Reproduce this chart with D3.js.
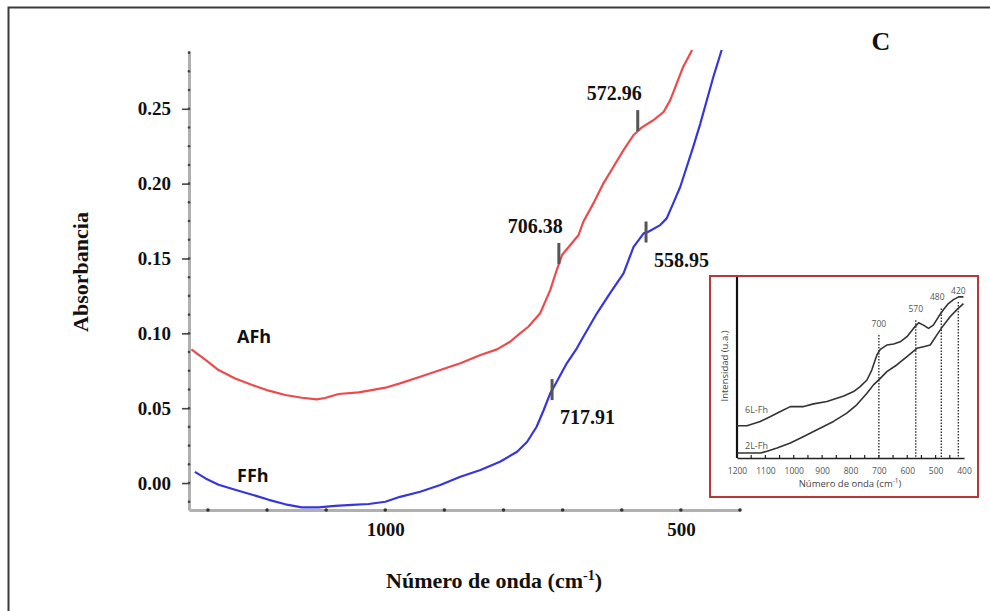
<!DOCTYPE html>
<html>
<head>
<meta charset="utf-8">
<script src="https://cdn.jsdelivr.net/npm/d3@7"></script>
<style>
  html, body { margin: 0; padding: 0; background: #fff; }
  svg { display: block; }
</style>
</head>
<body>
<svg id="chart" width="990" height="611"></svg>
<script>
// ---- FT-IR spectra: absorbance vs. wavenumber ----
const afhWavenumber = [1328, 1304, 1282, 1254, 1225, 1197, 1169, 1141, 1116, 1102, 1079, 1045, 1023, 1000,
  975, 941, 907, 873, 839, 811, 789, 772, 758, 738, 721, 710, 701, 687, 673, 665, 648, 631, 614, 597,
  580, 566, 546, 529, 518, 507, 496, 481];
const afhAbsorbance = [0.0893, 0.0822, 0.0755, 0.0699, 0.0655, 0.0617, 0.0588, 0.0570, 0.0559, 0.0568,
  0.0595, 0.0606, 0.0621, 0.0637, 0.0666, 0.0710, 0.0755, 0.0800, 0.0855, 0.0893, 0.0944, 0.1000, 0.1044,
  0.1134, 0.1289, 0.1423, 0.1523, 0.1590, 0.1657, 0.1745, 0.1868, 0.2002, 0.2113, 0.2224, 0.2325, 0.2376,
  0.2425, 0.2480, 0.2558, 0.2670, 0.2781, 0.2893];

const ffhWavenumber = [1322, 1304, 1282, 1254, 1225, 1197, 1169, 1141, 1113, 1085, 1056, 1028, 1000, 975,
  941, 907, 873, 839, 806, 777, 760, 744, 732, 721, 710, 693, 676, 665, 642, 620, 597, 580, 563, 555, 535,
  524, 513, 501, 490, 479, 467, 456, 445, 431];
const ffhAbsorbance = [0.0075, 0.0031, -0.0011, -0.0045, -0.0078, -0.0112, -0.0142, -0.0162, -0.0162,
  -0.0153, -0.0146, -0.0140, -0.0125, -0.0092, -0.0058, -0.0013, 0.0042, 0.0087, 0.0142, 0.0209, 0.0276,
  0.0376, 0.0488, 0.0599, 0.0677, 0.0800, 0.0900, 0.0977, 0.1134, 0.1267, 0.1401, 0.1578, 0.1668, 0.1679,
  0.1723, 0.1768, 0.1868, 0.1979, 0.2113, 0.2247, 0.2403, 0.2559, 0.2714, 0.2893];

// band positions marked on each spectrum
const bandSeries = ["AFh", "AFh", "FFh", "FFh"];
const bandWavenumber = [706.38, 572.96, 558.95, 717.91];

const seriesNames = ["AFh", "FFh"];
const seriesColors = ["#ec4a4c", "#3636dc"];

const yMajorTicks = [0.00, 0.05, 0.10, 0.15, 0.20, 0.25];
const yMinorTicks = d3.range(-0.0125, 0.29, 0.0125);
const xTicks = [1300, 1200, 1100, 1000, 900, 800, 700, 600, 500, 400];
const xLabelled = [1000, 500];

// ---- inset: reference spectra of 2L / 6L ferrihydrite ----
const insetWavenumber6L = [1200, 1165, 1118, 1094, 1047, 1012, 965, 930, 883, 824, 789, 766, 742, 725,
  707, 695, 672, 648, 625, 601, 578, 560, 543, 525, 508, 490, 472, 455, 437, 419, 402];
const insetIntensity6L = [17.8, 17.8, 20.2, 22.0, 25.7, 28.4, 28.4, 29.9, 31.2, 34.3, 36.7, 39.4, 43.1,
  48.6, 56.9, 60.0, 62.4, 63.0, 64.2, 67.0, 71.6, 74.7, 73.4, 71.6, 73.4, 78.0, 82.0, 85.3, 87.5, 89.0, 89.0];
const insetWavenumber2L = [1200, 1118, 1094, 1059, 1012, 965, 918, 860, 813, 778, 742, 719, 695, 672, 637,
  601, 566, 543, 519, 496, 472, 449, 425, 402];
const insetIntensity2L = [2.75, 2.75, 3.7, 5.5, 8.3, 11.9, 15.6, 20.2, 24.8, 29.4, 35.8, 40.4, 44.0, 47.7,
  51.4, 56.0, 60.6, 61.5, 62.4, 67.9, 73.4, 78.0, 82.0, 85.3];
const insetPeaks = [700, 570, 480, 420];
const insetPeakTop = [67.9, 76.1, 82.6, 86.2];
const insetTicks = [1200, 1100, 1000, 900, 800, 700, 600, 500, 400];

// ---------------------------------------------------------------
const svg = d3.select("#chart");
const serif = "'Liberation Serif', 'Times New Roman', serif";
const sans = "'Open Sans', 'Liberation Sans', sans-serif";

// outer figure frame (left and top edges)
svg.append("path")
  .attr("d", "M990,7.5H8.5V611")
  .attr("fill", "none").attr("stroke", "#3a3a3a").attr("stroke-width", 2);

const x = d3.scaleLinear().domain([1332, 400]).range([189, 740]);
const y = d3.scaleLinear().domain([-0.018, 0.2886]).range([510, 51]);

// y axis
const yAxisG = svg.append("g").attr("transform", `translate(${x.range()[0]},0)`)
  .call(d3.axisLeft(y).tickValues(yMajorTicks).tickSize(7).tickSizeOuter(0).tickPadding(11)
    .tickFormat(d3.format(".2f")));
yAxisG.select(".domain").attr("stroke", "#b0b0b0").attr("stroke-width", 3);
yAxisG.selectAll(".tick line").attr("stroke", "#444").attr("stroke-width", 1.6);
yAxisG.selectAll(".tick text")
  .attr("font-family", serif).attr("font-weight", "bold").attr("font-size", 19).attr("fill", "#111");
yAxisG.selectAll("circle.minor").data(yMinorTicks).join("circle")
  .attr("class", "minor").attr("cx", 0).attr("cy", d => y(d)).attr("r", 1.3).attr("fill", "#444");

// x axis
const xAxisG = svg.append("g").attr("transform", `translate(0,${y.range()[0]})`)
  .call(d3.axisBottom(x).tickValues(xTicks).tickSize(0).tickSizeOuter(0).tickPadding(13)
    .tickFormat(d => xLabelled.includes(d) ? String(d) : ""));
xAxisG.select(".domain").attr("stroke", "#b0b0b0").attr("stroke-width", 3);
xAxisG.selectAll(".tick text")
  .attr("font-family", serif).attr("font-weight", "bold").attr("font-size", 19).attr("fill", "#111");
xAxisG.selectAll("circle.dot").data(xTicks).join("circle")
  .attr("class", "dot").attr("cx", d => x(d)).attr("cy", 0).attr("r", 1.8).attr("fill", "#333");

// axis titles
svg.append("text")
  .attr("transform", "translate(88,272) rotate(-90)")
  .attr("text-anchor", "middle")
  .attr("font-family", serif).attr("font-weight", "bold").attr("font-size", 22).attr("fill", "#111")
  .text("Absorbancia");
const xt = svg.append("text")
  .attr("x", 494).attr("y", 588).attr("text-anchor", "middle")
  .attr("font-family", serif).attr("font-weight", "bold").attr("font-size", 22).attr("fill", "#111");
xt.append("tspan").text("Número de onda (cm");
xt.append("tspan").attr("font-size", 14).attr("dy", -8).text("-1");
xt.append("tspan").attr("dy", 8).text(")");

// panel letter
svg.append("text").attr("x", 881).attr("y", 50).attr("text-anchor", "middle")
  .attr("font-family", serif).attr("font-weight", "bold").attr("font-size", 26).attr("fill", "#111")
  .text("C");

// spectra
const spectra = [
  d3.zip(afhWavenumber, afhAbsorbance),
  d3.zip(ffhWavenumber, ffhAbsorbance)
];
const line = d3.line().x(d => x(d[0])).y(d => y(d[1]));
svg.selectAll("path.spectrum").data(spectra).join("path")
  .attr("class", "spectrum")
  .attr("d", line)
  .attr("fill", "none")
  .attr("stroke", (d, i) => seriesColors[i])
  .attr("stroke-width", 2.2)
  .attr("stroke-linejoin", "round");

// series names
const nameY = [y(0.0935), y(0.0005)];
svg.selectAll("text.series").data(seriesNames).join("text")
  .attr("class", "series")
  .attr("x", 237).attr("y", (d, i) => nameY[i])
  .attr("font-family", sans).attr("font-weight", "bold").attr("font-size", 18).attr("fill", "#111")
  .text(d => d);

// absorbance of a spectrum at a given wavenumber (linear between samples)
function valueAt(series, wn) {
  const pts = series.slice().sort((a, b) => a[0] - b[0]);
  const i = d3.bisector(d => d[0]).left(pts, wn);
  const a = pts[Math.max(0, i - 1)], b = pts[Math.min(pts.length - 1, i)];
  if (a[0] === b[0]) return a[1];
  return a[1] + (b[1] - a[1]) * (wn - a[0]) / (b[0] - a[0]);
}

// band markers and labels
bandWavenumber.forEach((wn, i) => {
  const s = seriesNames.indexOf(bandSeries[i]);
  const px = x(wn), py = y(valueAt(spectra[s], wn));
  const top = s === 0 ? py - 21 : py - 11;
  const bottom = top + 21;
  svg.append("rect").attr("x", px - 1.5).attr("y", top).attr("width", 3).attr("height", 21)
    .attr("fill", "#555");
  const lbl = svg.append("text")
    .attr("font-family", serif).attr("font-weight", "bold").attr("font-size", 20).attr("fill", "#111")
    .text(wn.toFixed(2));
  if (s === 0) {
    lbl.attr("x", px + 4).attr("y", top - 10).attr("text-anchor", "end");
  } else {
    lbl.attr("x", px + 8).attr("y", bottom + 24).attr("text-anchor", "start");
  }
});

// ---------------- inset ----------------
const inset = svg.append("g");
inset.append("rect").attr("x", 710).attr("y", 276).attr("width", 268).attr("height", 221)
  .attr("fill", "#fff").attr("stroke", "#b8383a").attr("stroke-width", 2);

const xi = d3.scaleLinear().domain([1200, 400]).range([737, 964]);
const yi = d3.scaleLinear().domain([0, 100]).range([458, 277]);

const xiAxis = inset.append("g").attr("transform", `translate(0,${yi(0)})`)
  .call(d3.axisBottom(xi).tickValues(insetTicks).tickSize(0).tickSizeOuter(0).tickPadding(10)
    .tickFormat(d3.format("d")));
xiAxis.select(".domain").attr("stroke", "#222").attr("stroke-width", 1.5);
xiAxis.selectAll(".tick text").attr("font-family", sans).attr("font-size", 8.5).attr("fill", "#555");
xiAxis.selectAll("line.minor").data(d3.range(1150, 400, -50)).join("line")
  .attr("class", "minor").attr("x1", d => xi(d)).attr("x2", d => xi(d))
  .attr("y1", -3).attr("y2", 1).attr("stroke", "#222").attr("stroke-width", 1.2);

inset.append("line").attr("x1", xi(1200)).attr("x2", xi(1200)).attr("y1", yi(100)).attr("y2", yi(0))
  .attr("stroke", "#111").attr("stroke-width", 2.2);

// dotted peak guides
insetPeaks.forEach((wn, i) => {
  inset.append("line").attr("x1", xi(wn)).attr("x2", xi(wn))
    .attr("y1", yi(insetPeakTop[i])).attr("y2", yi(0))
    .attr("stroke", "#333").attr("stroke-width", 1.4).attr("stroke-dasharray", "1.5,1.5");
  inset.append("text").attr("x", xi(wn) - (wn === 480 ? 4 : 0)).attr("y", yi(insetPeakTop[i]) - 8)
    .attr("text-anchor", "middle").attr("font-family", sans).attr("font-size", 8.5).attr("fill", "#555")
    .text(wn);
});

const insetLine = d3.line().x(d => xi(d[0])).y(d => yi(d[1]));
[d3.zip(insetWavenumber6L, insetIntensity6L), d3.zip(insetWavenumber2L, insetIntensity2L)].forEach(s => {
  inset.append("path").attr("d", insetLine(s)).attr("fill", "none")
    .attr("stroke", "#333").attr("stroke-width", 1.6).attr("stroke-linejoin", "round");
});

inset.append("text").attr("x", 745).attr("y", 413).attr("font-family", sans).attr("font-size", 9)
  .attr("fill", "#555").text("6L-Fh");
inset.append("text").attr("x", 745).attr("y", 449).attr("font-family", sans).attr("font-size", 9)
  .attr("fill", "#555").text("2L-Fh");

const it = inset.append("text").attr("x", 850).attr("y", 487).attr("text-anchor", "middle")
  .attr("font-family", sans).attr("font-size", 9.5).attr("fill", "#444");
it.append("tspan").text("Número de onda (cm");
it.append("tspan").attr("font-size", 6.5).attr("dy", -4).text("-1");
it.append("tspan").attr("dy", 4).text(")");

inset.append("text").attr("transform", "translate(728,366) rotate(-90)").attr("text-anchor", "middle")
  .attr("font-family", sans).attr("font-size", 9.5).attr("fill", "#444").text("Intensidad (u.a.)");
</script>
</body>
</html>
